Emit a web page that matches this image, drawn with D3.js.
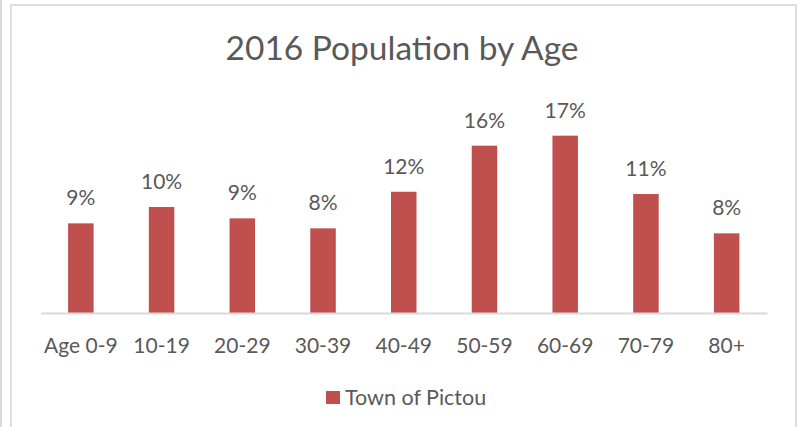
<!DOCTYPE html>
<html>
<head>
<meta charset="utf-8">
<script src="https://cdn.jsdelivr.net/npm/d3@7"></script>
<style>
  body { margin: 0; background: #fff; }
  text { font-family: Lato, "Open Sans", sans-serif; fill: #595959; }
</style>
</head>
<body>
<div id="chart"></div>
<script>
// age groups and share of population (Town of Pictou, 2016)
var ageGroups = ["Age 0-9", "10-19", "20-29", "30-39", "40-49", "50-59", "60-69", "70-79", "80+"];
var shares = [0.0862, 0.1019, 0.091, 0.0814, 0.1166, 0.1609, 0.1705, 0.1144, 0.0766];
var seriesName = "Town of Pictou";
var chartTitle = "2016 Population by Age";

var width = 804, height = 427;
var barColor = "#C0504D";

var svg = d3.select("#chart")
    .append("svg")
    .attr("width", width)
    .attr("height", height);

// frame lines round the chart
svg.append("line")
    .attr("x1", 1).attr("x2", 1)
    .attr("y1", 0).attr("y2", height)
    .attr("stroke", "#d9d9d9").attr("stroke-width", 2);
svg.append("rect")
    .attr("x", 11).attr("y", 5)
    .attr("width", 785).attr("height", height + 10)
    .attr("fill", "none")
    .attr("stroke", "#dedede").attr("stroke-width", 2);

var x = d3.scaleBand()
    .domain(ageGroups)
    .range([40.5, 767])
    .paddingInner(0.684)
    .paddingOuter(0.342);

var y = d3.scaleLinear()
    .domain([0, 0.18])
    .range([313, 313 - 187.2]);

// title
svg.append("text")
    .attr("x", 402)
    .attr("y", 59.5)
    .attr("text-anchor", "middle")
    .style("font-size", "33.5px")
    .text(chartTitle);

// bars
svg.append("g")
    .selectAll("rect")
    .data(shares)
    .join("rect")
    .attr("x", (d, i) => x(ageGroups[i]))
    .attr("y", d => y(d))
    .attr("width", x.bandwidth())
    .attr("height", d => y(0) - y(d))
    .attr("fill", barColor);

// data labels
svg.append("g")
    .selectAll("text")
    .data(shares)
    .join("text")
    .attr("x", (d, i) => x(ageGroups[i]) + x.bandwidth() / 2)
    .attr("y", d => y(d) - 18)
    .attr("text-anchor", "middle")
    .style("font-size", "21px")
    .text(d => d3.format(".0%")(d));

// category axis
var xAxis = d3.axisBottom(x).tickSize(0).tickPadding(0);
var gx = svg.append("g")
    .attr("transform", "translate(0," + y(0) + ")")
    .call(xAxis);
gx.select(".domain")
    .attr("stroke", "#d9d9d9")
    .attr("stroke-width", 2);
gx.selectAll(".tick text")
    .attr("dy", null)
    .attr("y", 39.5)
    .style("font-size", "21px")
    .style("font-family", "Lato, 'Open Sans', sans-serif")
    .attr("fill", "#595959");

// legend
var legend = svg.append("g").attr("transform", "translate(326,391)");
legend.append("rect")
    .attr("width", 14).attr("height", 13)
    .attr("fill", barColor);
legend.append("text")
    .attr("x", 19)
    .attr("y", 14)
    .style("font-size", "21.5px")
    .text(seriesName);
</script>
</body>
</html>
